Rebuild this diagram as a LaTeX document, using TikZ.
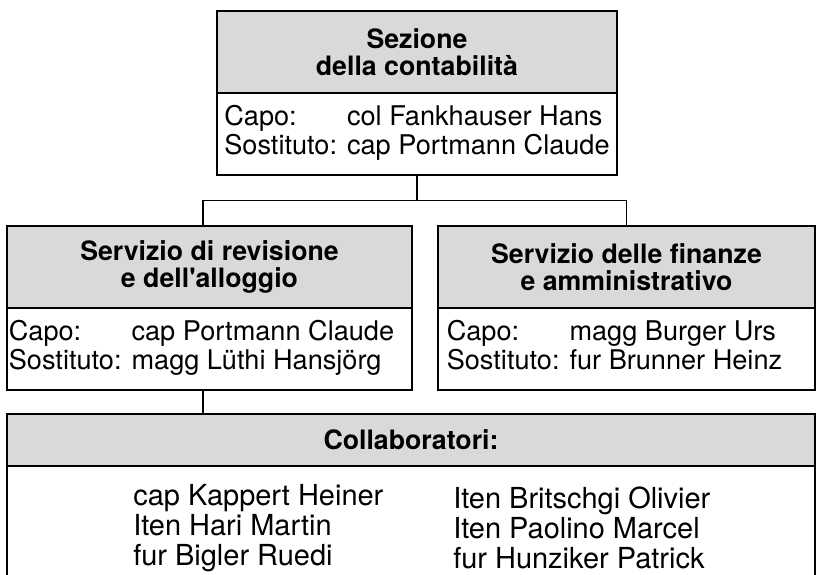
\documentclass[tikz,border=0pt]{standalone}
\usepackage{fontspec}
\setmainfont{TeX Gyre Heros}
\usepackage{xcolor}
\usepackage{tikz}
\usetikzlibrary{positioning}
\usetikzlibrary{calc}

\definecolor{headgray}{gray}{0.85}

\begin{document}
\begin{tikzpicture}[
    headbox/.style={draw, fill=headgray, line width=1.2pt, inner sep=0pt, outer sep=0pt,
                    align=center, font=\bfseries\fontsize{19}{19.2}\selectfont},
    bodybox/.style={draw, fill=white, line width=1.2pt, inner sep=0pt, outer sep=0pt,
                    align=left, font=\fontsize{19.3}{19.5}\selectfont},
    names/.style={align=left, inner sep=0pt, font=\fontsize{20.6}{21.6}\selectfont},
    link/.style={line width=1.1pt}
  ]
  \useasboundingbox (0,0) rectangle (20.425,-14.375);

  % Sezione
  \node[headbox, minimum width=10cm, minimum height=2.05cm] (SezHead) at (10.425,-1.3)
       {Sezione\\della contabilità};
  \node[bodybox, minimum width=10cm, minimum height=2.05cm, below=0pt of SezHead] (SezBody)
       {\begin{tabular}{@{}l@{ }l@{}}Capo: & col Fankhauser Hans\\Sostituto: & cap Portmann Claude\end{tabular}};

  % Servizi
  \node[headbox, minimum width=10.125cm, minimum height=2.05cm] (RevHead) at (5.2375,-6.675)
       {Servizio di revisione\\e dell\textquotesingle alloggio};
  \node[bodybox, minimum width=10.125cm, minimum height=2.05cm, below=0pt of RevHead] (RevBody)
       {\begin{tabular}{@{}l@{ }l@{}}Capo: & cap Portmann Claude\\Sostituto: & magg Lüthi Hansjörg\end{tabular}\hspace*{0.4cm}};

  \node[headbox, minimum width=9.425cm, minimum height=2.05cm] (FinHead) at (15.6625,-6.675)
       {Servizio delle finanze\\e amministrativo};
  \node[bodybox, minimum width=9.425cm, minimum height=2.05cm, below=0pt of FinHead] (FinBody)
       {\begin{tabular}{@{}l@{ }l@{}}Capo: & magg Burger Urs\\Sostituto: & fur Brunner Heinz\end{tabular}\hspace*{0.6cm}};

  % Collaboratori
  \node[headbox, minimum width=20.2cm, minimum height=1.3cm] (CollHead) at (10.275,-11.0)
       {Collaboratori:};
  \node[bodybox, minimum width=20.2cm, minimum height=3cm, below=0pt of CollHead] (CollBody) {};
  \node[names, anchor=west] (CollLeft)  at ([xshift=3.15cm, yshift=-1.55cm] CollBody.north west)
       {cap Kappert Heiner\\Iten Hari Martin\\fur Bigler Ruedi};
  \node[names, anchor=west] (CollRight) at ([xshift=11.15cm, yshift=-1.55cm] CollBody.north west)
       {Iten Britschgi Olivier\\Iten Paolino Marcel\\fur Hunziker Patrick};

  % links
  \coordinate (RevTop) at ([xshift=-0.16cm] RevHead.north);
  \coordinate (RevBot) at ([xshift=-0.16cm] RevBody.south);
  \coordinate (Fork) at ($(SezBody.south)!.5!(SezBody.south |- RevHead.north)$);
  \draw[link] (SezBody.south) -- (Fork);
  \draw[link] (RevTop) |- (Fork) -| (FinHead.north);
  \draw[link] (RevBot) -- (RevBot |- CollHead.north);

\end{tikzpicture}
\end{document}
